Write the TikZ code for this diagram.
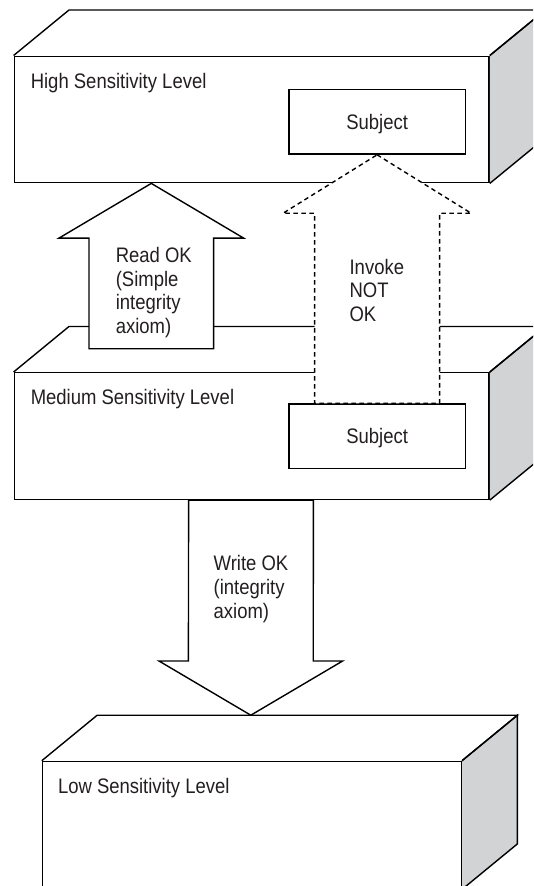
\documentclass[tikz,border=0pt]{standalone}
\usepackage{fontspec}
\setmainfont{Liberation Sans}[FakeStretch=0.88]
\usetikzlibrary{calc}
\definecolor{sideface}{RGB}{209,211,212}
\definecolor{ink}{RGB}{35,31,32}

% draws the top and right faces of a level block whose front face is node #1
\newcommand\drawslab[1]{%
  \draw[edge, fill=sideface] (#1.north east) -- ++(55.4,-45.5)
     -- ($(#1.south east)+(55.4,-45.5)$) -- (#1.south east);
  \draw[edge] (#1.north west) -- ++(55.4,-45.5)
     -- ($(#1.north east)+(55.4,-45.5)$) -- (#1.north east);
}

\begin{document}
\begin{tikzpicture}[x=1pt,y=-1pt,
  edge/.style={line width=1.4pt, draw=black, line join=miter},
  front/.style={edge, fill=white, rectangle, inner sep=0pt, anchor=north west},
  subjectbox/.style={edge, fill=white, rectangle, inner sep=0pt, anchor=north west,
    minimum width=176.4pt, minimum height=64.4pt, text height=14.2pt, text depth=0pt,
    font=\lab, text=ink},
  levelname/.style={anchor=base west, inner sep=0pt, font=\lab, text=ink},
  % multi-line labels are placed by the baseline of their last line
  arrowtext/.style={anchor=base west, inner sep=0pt, align=left, font=\lab, text=ink},
  blk/.style={edge, fill=white},
  blkdash/.style={edge, fill=white, dash pattern=on 4.5pt off 3.5pt}
]
\newcommand\lab{\fontsize{21}{23.7}\selectfont}
\useasboundingbox (0,0) rectangle (533,886);
\clip (0,0) rectangle (533,886);

% level blocks, lowest first
\node[front, minimum width=418.8pt, minimum height=127.3pt] (lo) at (41.8,760.7) {};
\drawslab{lo}
\node[front, minimum width=474.8pt, minimum height=126.7pt] (mid) at (13.6,372) {};
\drawslab{mid}
\node[front, minimum width=474.8pt, minimum height=126.5pt] (hi) at (13.6,55.5) {};
\drawslab{hi}

\node[levelname] (hiname) at ($(hi.north west)+(17,32.8)$) {High Sensitivity Level};
\node[levelname] (midname) at ($(mid.north west)+(17,32.8)$) {Medium Sensitivity Level};
\node[levelname] (loname) at ($(lo.north west)+(16,32.6)$) {Low Sensitivity Level};

% subjects
\node[subjectbox] (hs) at (288.2,89) {Subject};
\node[subjectbox] (ms) at (288.2,403.3) {Subject};

% read arrow: medium up to high
\coordinate (rt) at ($(hi.south west)+(137.7,0)$);
\draw[blk] (rt) -- ($(rt)+(92.3,54.7)$) -- ($(rt)+(62.3,54.7)$) -- ($(rt)+(62.3,165.3)$)
  -- ($(rt)+(-62.3,165.3)$) -- ($(rt)+(-62.3,54.7)$) -- ($(rt)+(-92.3,54.7)$) -- cycle;
\node[arrowtext] (readtxt) at (115.6,333.6) {Read OK\\(Simple\\integrity\\axiom)};

% invoke arrow: medium subject up to high subject
\draw[blkdash] (hs.south) -- ($(hs.south)+(94,58.4)$) -- ($(hs.south)+(62.5,58.4)$)
  -- ($(ms.north)+(62.5,0)$) -- ($(ms.north)+(-62.5,0)$)
  -- ($(hs.south)+(-62.5,58.4)$) -- ($(hs.south)+(-94,58.4)$) -- cycle;
\node[arrowtext] (invtxt) at (349.4,321.4) {Invoke\\NOT\\OK};

% write arrow: medium down to low
\coordinate (wtop) at ($(mid.south west)+(237.4,0)$);
\coordinate (wt) at ($(lo.north west)+(209,-45.5)$);
\draw[blk] ($(wtop)+(-62.4,0)$) -- ($(wtop)+(62.4,0)$) -- ($(wt)+(62.4,-54.2)$)
  -- ($(wt)+(91.8,-54.2)$) -- (wt) -- ($(wt)+(-91.8,-54.2)$) -- ($(wt)+(-62.4,-54.2)$) -- cycle;
\node[arrowtext] (writetxt) at (213.5,618.1) {Write OK\\(integrity\\axiom)};
\end{tikzpicture}
\end{document}
